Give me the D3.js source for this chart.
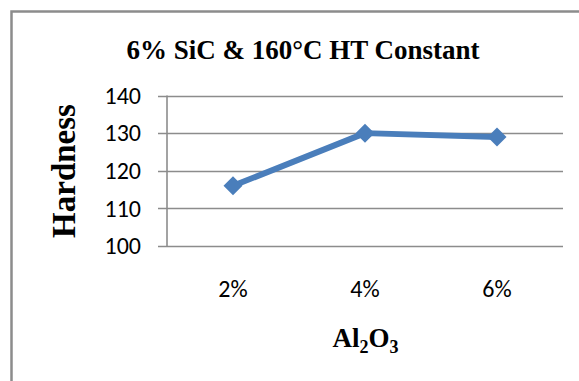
<!DOCTYPE html>
<html><head><meta charset="utf-8">
<script src="https://cdn.jsdelivr.net/npm/d3@7"></script>
<style>body{margin:0;background:#fff}svg{display:block}</style>
</head><body>
<script>
const categories = ["2%", "4%", "6%"];
const hardness = [116, 130, 129];
const yTicks = [100, 110, 120, 130, 140];

const W = 579, H = 381;
const svg = d3.select("body").append("svg").attr("width", W).attr("height", H);

// outer border (extends past the right/bottom edges)
svg.append("rect").attr("x", 11.5).attr("y", 11.5).attr("width", 600).attr("height", 400)
  .attr("fill", "none").attr("stroke", "#8c8c8c").attr("stroke-width", 2.5);

const x = d3.scaleBand().domain(categories).range([167, 563]);
const y = d3.scaleLinear().domain([100, 140]).range([246, 95.5]);

// gridlines
svg.append("g").selectAll("line").data(yTicks).join("line")
  .attr("x1", 158).attr("x2", 563)
  .attr("y1", d => Math.round(y(d)) + 0.5).attr("y2", d => Math.round(y(d)) + 0.5)
  .attr("stroke", "#8c8c8c").attr("stroke-width", 1.6);

// y axis line
svg.append("line").attr("x1", 167).attr("x2", 167).attr("y1", y(140)).attr("y2", y(100) + 1)
  .attr("stroke", "#8c8c8c").attr("stroke-width", 1.6);

const sans = "Carlito, 'Liberation Sans', Arial, sans-serif";
const serif = "'Liberation Serif', 'Times New Roman', serif";

// y tick labels
svg.append("g").selectAll("text").data(yTicks).join("text")
  .attr("x", 141).attr("y", d => y(d)).attr("dy", "0.34em")
  .attr("text-anchor", "end").attr("font-family", sans)
  .attr("font-size", 24).attr("fill", "#000").text(d => d);

// x tick labels
svg.append("g").selectAll("text").data(categories).join("text")
  .attr("x", d => x(d) + x.bandwidth() / 2).attr("y", 297)
  .attr("text-anchor", "middle").attr("font-family", sans)
  .attr("font-size", 24).attr("fill", "#000").text(d => d);

// line
const pts = categories.map((c, i) => [x(c) + x.bandwidth() / 2, y(hardness[i])]);
svg.append("path").attr("d", d3.line()(pts)).attr("fill", "none")
  .attr("stroke", "#4a7ebb").attr("stroke-width", 6).attr("stroke-linejoin", "round");

// diamond markers
svg.append("g").selectAll("path").data(pts).join("path")
  .attr("transform", d => `translate(${d[0]},${d[1]})`)
  .attr("d", "M0,-9.5L9.5,0L0,9.5L-9.5,0Z").attr("fill", "#4a7ebb");

// title
svg.append("text").attr("x", 303).attr("y", 58.5).attr("text-anchor", "middle")
  .attr("font-family", serif).attr("font-weight", "bold")
  .attr("font-size", 27).text("6% SiC & 160°C HT Constant");

// y title
svg.append("text").attr("transform", "translate(75,171) rotate(-90)").attr("text-anchor", "middle")
  .attr("font-family", serif).attr("font-weight", "bold")
  .attr("font-size", 33).text("Hardness");

// x title
const xt = svg.append("text").attr("x", 365.5).attr("y", 347).attr("text-anchor", "middle")
  .attr("font-family", serif).attr("font-weight", "bold")
  .attr("font-size", 27);
xt.append("tspan").text("Al");
xt.append("tspan").attr("font-size", 18).attr("dy", 6).text("2");
xt.append("tspan").attr("dy", -6).text("O");
xt.append("tspan").attr("font-size", 18).attr("dy", 6).text("3");
</script>
</body></html>
